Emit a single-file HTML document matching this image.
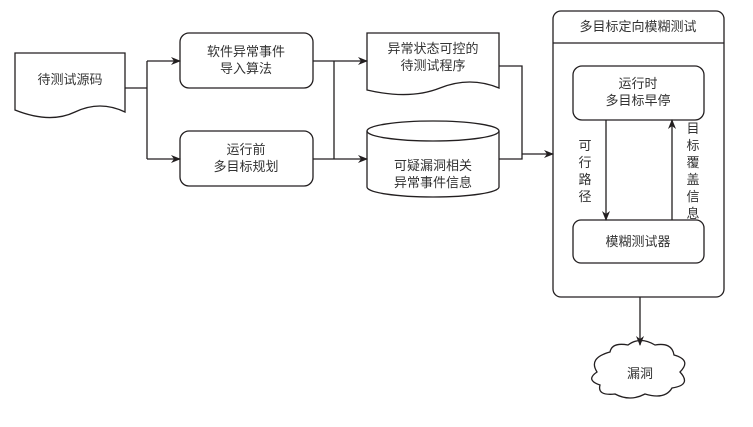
<!DOCTYPE html>
<html><head><meta charset="utf-8"><style>body{margin:0;background:#fff}svg{display:block}text{font-family:"Liberation Sans","Noto Sans CJK SC",sans-serif;font-size:13px;fill:#333;text-anchor:middle}</style></head><body>
<svg width="753" height="427" viewBox="0 0 753 427" xmlns="http://www.w3.org/2000/svg">
<defs><marker id="a" markerWidth="10" markerHeight="10" refX="9" refY="5" orient="auto" markerUnits="userSpaceOnUse"><path d="M0,1 L10,5 L0,9 L3,5 z" fill="#231f20"/></marker></defs>
<g fill="none" stroke="#231f20" stroke-width="1.3">
<path d="M15,53 H125 V112 Q100,100 75,112 T15,110 Z" fill="#fff"/>
<path d="M125,88 H147 M147,61 V159 M147,61 H180" marker-end="url(#a)"/>
<path d="M147,159 H180" marker-end="url(#a)"/>
<rect x="180" y="33" width="133" height="55" rx="9"/>
<rect x="180" y="131" width="133" height="55" rx="9"/>
<path d="M313,61 H367" marker-end="url(#a)"/>
<path d="M313,159 H367" marker-end="url(#a)"/>
<path d="M334,61 V159"/>
<path d="M367,33 H499 V88 Q470,76 440,88 T367,90 Z"/>
<path d="M367,131 V187 A66,10 0 0 0 499,187 V131"/>
<ellipse cx="433" cy="131" rx="66" ry="10"/>
<path d="M499,66 H522 V159 H499"/>
<path d="M522,154 H553" marker-end="url(#a)"/>
<rect x="553" y="11" width="171" height="286" rx="8"/>
<path d="M553,43 H724"/>
<rect x="573" y="66" width="131" height="54" rx="9"/>
<rect x="573" y="220" width="131" height="43" rx="8"/>
<path d="M606,120 V220" marker-end="url(#a)"/>
<path d="M672,220 V120" marker-end="url(#a)"/>
<path d="M640,297 V345" marker-end="url(#a)"/>
<path d="M610,352 Q612,342 628,345 Q640,336 655,345 Q672,342 674,355 Q692,360 680,372 Q692,385 672,388 Q665,400 645,394 Q630,402 615,394 Q597,396 600,385 Q585,380 597,372 Q588,358 610,352 Z"/>
</g>
<text x="70" y="84">待测试源码</text>
<text x="246" y="56">软件异常事件</text><text x="246" y="73">导入算法</text>
<text x="246" y="154">运行前</text><text x="246" y="171">多目标规划</text>
<text x="433" y="53">异常状态可控的</text><text x="433" y="70">待测试程序</text>
<text x="433" y="170">可疑漏洞相关</text><text x="433" y="187">异常事件信息</text>
<text x="638" y="31">多目标定向模糊测试</text>
<text x="638" y="88">运行时</text><text x="638" y="105">多目标早停</text>
<text x="638" y="246">模糊测试器</text>
<text x="585" y="150">可</text><text x="585" y="167">行</text><text x="585" y="184">路</text><text x="585" y="201">径</text>
<text x="693" y="133">目</text><text x="693" y="150">标</text><text x="693" y="167">覆</text><text x="693" y="184">盖</text><text x="693" y="201">信</text><text x="693" y="218">息</text>
<text x="640" y="378">漏洞</text>
</svg></body></html>
